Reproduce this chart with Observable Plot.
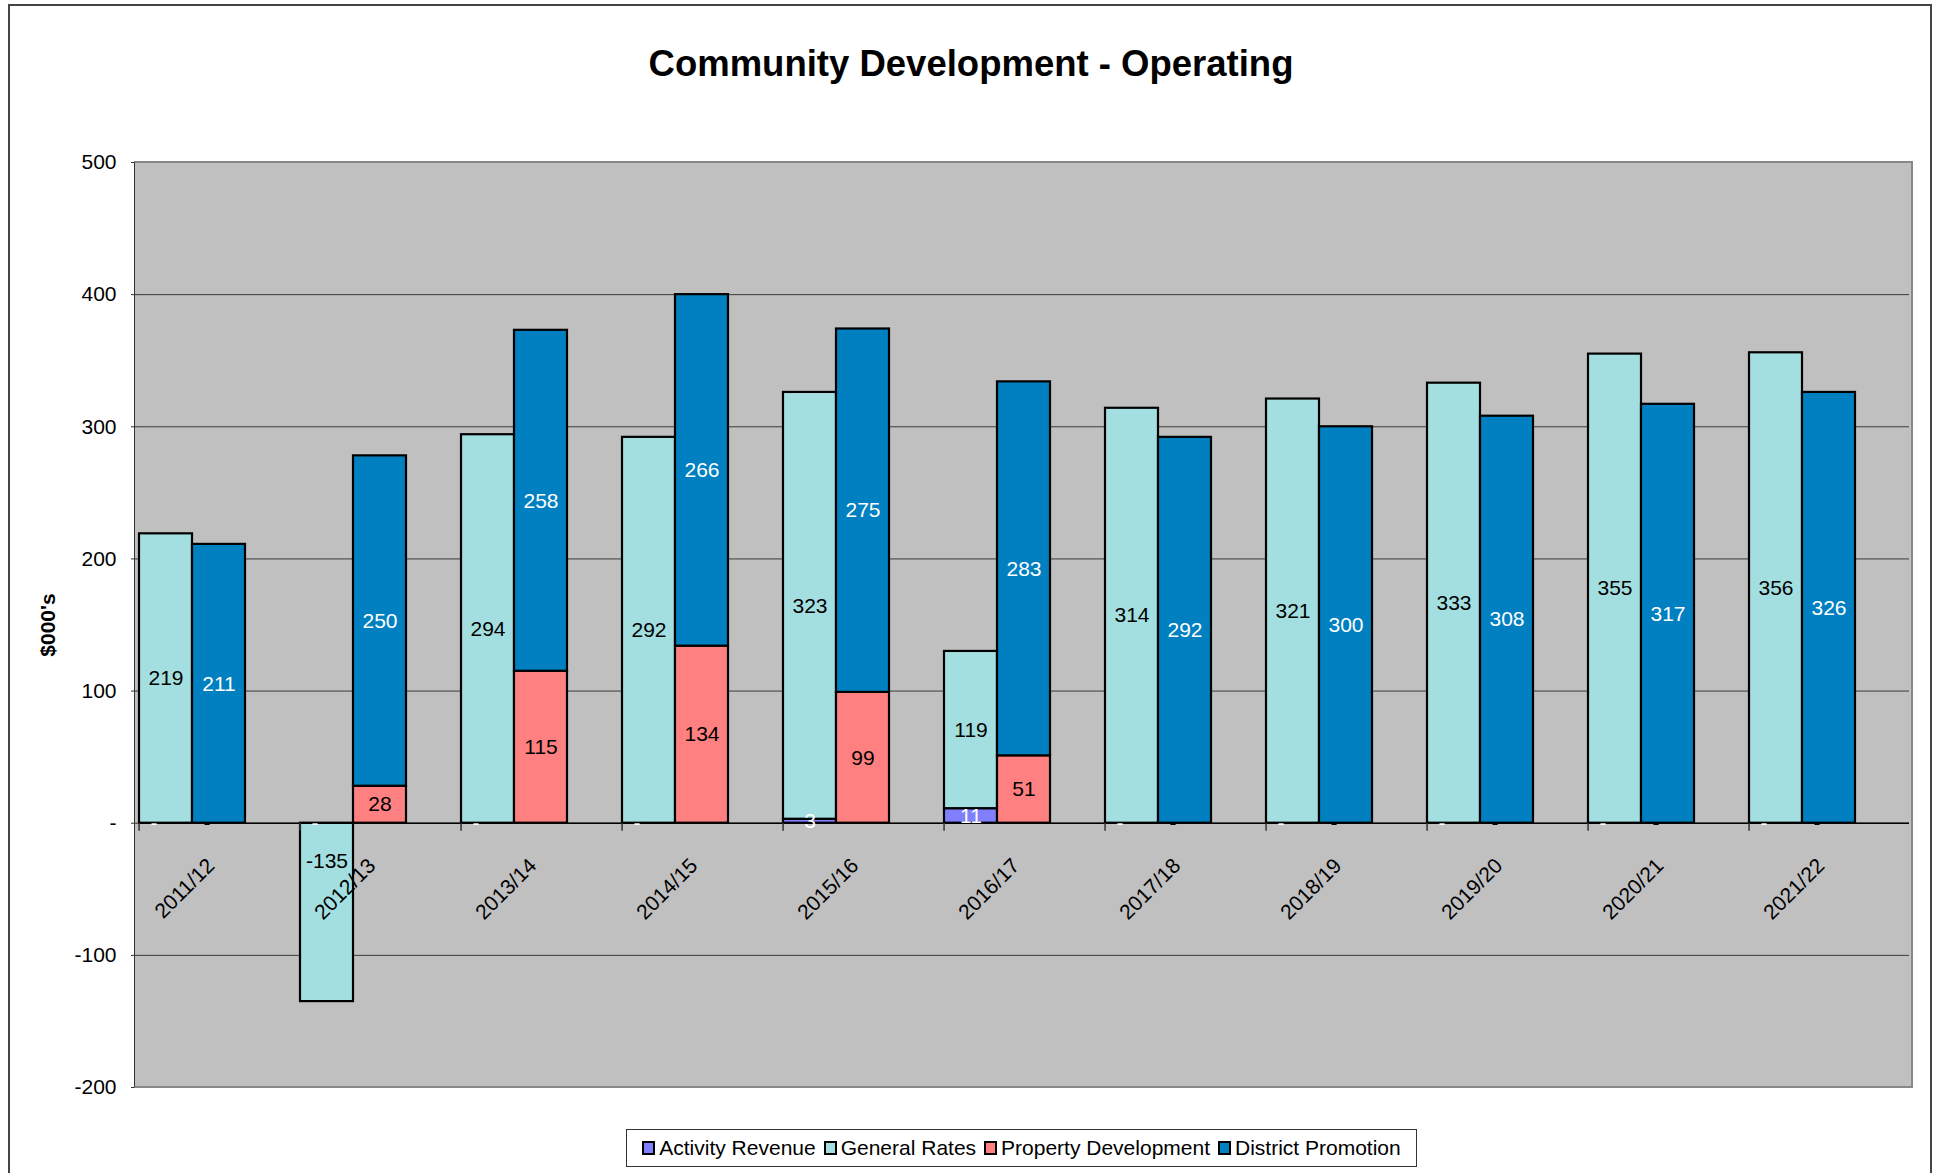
<!DOCTYPE html>
<html>
<head>
<meta charset="utf-8">
<script src="https://cdn.jsdelivr.net/npm/d3@7"></script>
<script src="https://cdn.jsdelivr.net/npm/@observablehq/plot@0.6"></script>
<style>
  html, body { margin: 0; padding: 0; background: #fff; }
  body { width: 1934px; height: 1173px; position: relative; overflow: hidden;
         font-family: "Liberation Sans", Arial, Helvetica, sans-serif; }
  #outer { position: absolute; left: 8px; top: 4px; width: 1924px; height: 1220px;
           border: 2px solid #444; box-sizing: border-box; }
  #title { position: absolute; left: 9px; width: 1924px; top: 45px; text-align: center;
           font-size: 36.5px; line-height: 38px; font-weight: bold; color: #000; }
  #plotbg { position: absolute; left: 135px; top: 162px; width: 1777px; height: 925px; background: #C0C0C0; }
  #chart { position: absolute; left: 0; top: 100px; }
  #plotborder { position: absolute; left: 134px; top: 161px; width: 1779px; height: 927px;
                border: 2px solid #888; border-left: 1.5px solid #333; box-sizing: border-box; pointer-events: none; }
  #ylabel { position: absolute; left: 48px; top: 625px; transform: translate(-50%, -50%) rotate(-90deg);
            font-size: 21px; font-weight: bold; white-space: nowrap; }
  #legend { position: absolute; left: 626px; top: 1129px; height: 38px; width: 791px; box-sizing: border-box;
            border: 1.5px solid #333; background: #fff; display: flex; align-items: center; justify-content: center;
            font-size: 21px; white-space: nowrap; }
  .item { display: flex; align-items: center; margin: 0 4px; }
  .sw { width: 9px; height: 10px; border: 2px solid #000; margin-right: 4px; }
</style>
</head>
<body>
<div id="outer"></div>
<div id="title">Community Development - Operating</div>
<div id="plotbg"></div>
<div id="chart"></div>
<div id="plotborder"></div>
<div id="ylabel">$000's</div>
<div id="legend"></div>
<script>
// ---- Data ----
const years = ["2011/12","2012/13","2013/14","2014/15","2015/16","2016/17","2017/18","2018/19","2019/20","2020/21","2021/22"];
const activityRevenue     = [0, 0, 0, 0, 3, 11, 0, 0, 0, 0, 0];
const generalRates        = [219, -135, 294, 292, 323, 119, 314, 321, 333, 355, 356];
const propertyDevelopment = [0, 28, 115, 134, 99, 51, 0, 0, 0, 0, 0];
const districtPromotion   = [211, 250, 258, 266, 275, 283, 292, 300, 308, 317, 326];
const seriesNames  = ["Activity Revenue", "General Rates", "Property Development", "District Promotion"];
const seriesValues = [activityRevenue, generalRates, propertyDevelopment, districtPromotion];
const seriesSide   = ["L", "L", "R", "R"];
const seriesColors = ["#8080FF", "#A3DFE0", "#FF8080", "#0080C0"];
const labelColors  = ["#FFFFFF", "#000000", "#000000", "#FFFFFF"];
const yTicks = [-200, -100, 0, 100, 200, 300, 400, 500];

// ---- Table built from arrays ----
const rows = [];
years.forEach((year, i) => {
  seriesNames.forEach((s, k) => {
    rows.push({year, series: s, side: seriesSide[k], value: seriesValues[k][i], labelColor: labelColors[k]});
  });
});
const nonZero = rows.filter(d => d.value !== 0);
const zeroRows = rows.filter(d => d.value === 0 && (d.series === "Activity Revenue" || d.series === "Property Development"));

// ---- Layout ----
const W = 1934, H = 1000;
const mL = 135, mR = 22, mT = 62, mB = 13;
const barW = (W - mL - mR) / years.length / 3;
const font = "'Liberation Sans', Arial, Helvetica, sans-serif";

const chart = Plot.plot({
  width: W, height: H,
  marginLeft: mL, marginRight: mR, marginTop: mT, marginBottom: mB,
  style: {fontFamily: font, fontSize: "21px", background: "transparent", color: "#000", overflow: "visible"},
  fx: {domain: years, padding: 0, axis: null},
  x: {domain: ["L", "R", "G"], padding: 0, axis: null},
  y: {domain: [-200, 500]},
  color: {domain: seriesNames, range: seriesColors},
  marks: [
    Plot.gridY({ticks: yTicks, stroke: "#3a3a3a", strokeOpacity: 1, strokeWidth: 1}),
    Plot.axisY({ticks: yTicks, tickFormat: d => d === 0 ? "-" : d, tickSize: 7, tickPadding: 15,
                fontSize: 21, label: null, stroke: "#333"}),
    Plot.barY(nonZero, Plot.stackY({fx: "year", x: "side", y: "value", fill: "series",
                                     stroke: "#000", strokeWidth: 2.2, order: seriesNames})),
    Plot.ruleY([0], {stroke: "#000", strokeWidth: 1.5}),
    Plot.ruleX(years, {fx: d => d, x: () => "L", y1: 0, y2: -6, dx: -barW / 2, stroke: "#333", strokeWidth: 1.5}),
    Plot.text(rows.filter(d => d.value > 0), Plot.stackY({fx: "year", x: "side", y: "value", text: d => String(d.value),
                fill: "labelColor", fontSize: 21, order: seriesNames})),
    Plot.text(rows.filter(d => d.value < 0), Plot.stackY({fx: "year", x: "side", y: "value", text: d => String(d.value),
                fill: "labelColor", fontSize: 21, dy: -51, order: seriesNames})),
    Plot.text(zeroRows, {fx: "year", x: "side", y: "value", text: () => "-", fill: "labelColor", fontSize: 21, dx: -12}),
    Plot.text(years, {fx: d => d, x: () => "R", y: () => 0, text: d => d, rotate: -45, textAnchor: "end",
                      dx: -8, dy: 39, fontSize: 21, fill: "#000"})
  ]
});
document.getElementById("chart").appendChild(chart);

// ---- Legend ----
const legend = document.getElementById("legend");
seriesNames.forEach((s, k) => {
  const item = document.createElement("div");
  item.className = "item";
  const sw = document.createElement("span");
  sw.className = "sw";
  sw.style.background = seriesColors[k];
  const t = document.createElement("span");
  t.textContent = s;
  item.appendChild(sw); item.appendChild(t);
  legend.appendChild(item);
});
</script>
</body>
</html>
